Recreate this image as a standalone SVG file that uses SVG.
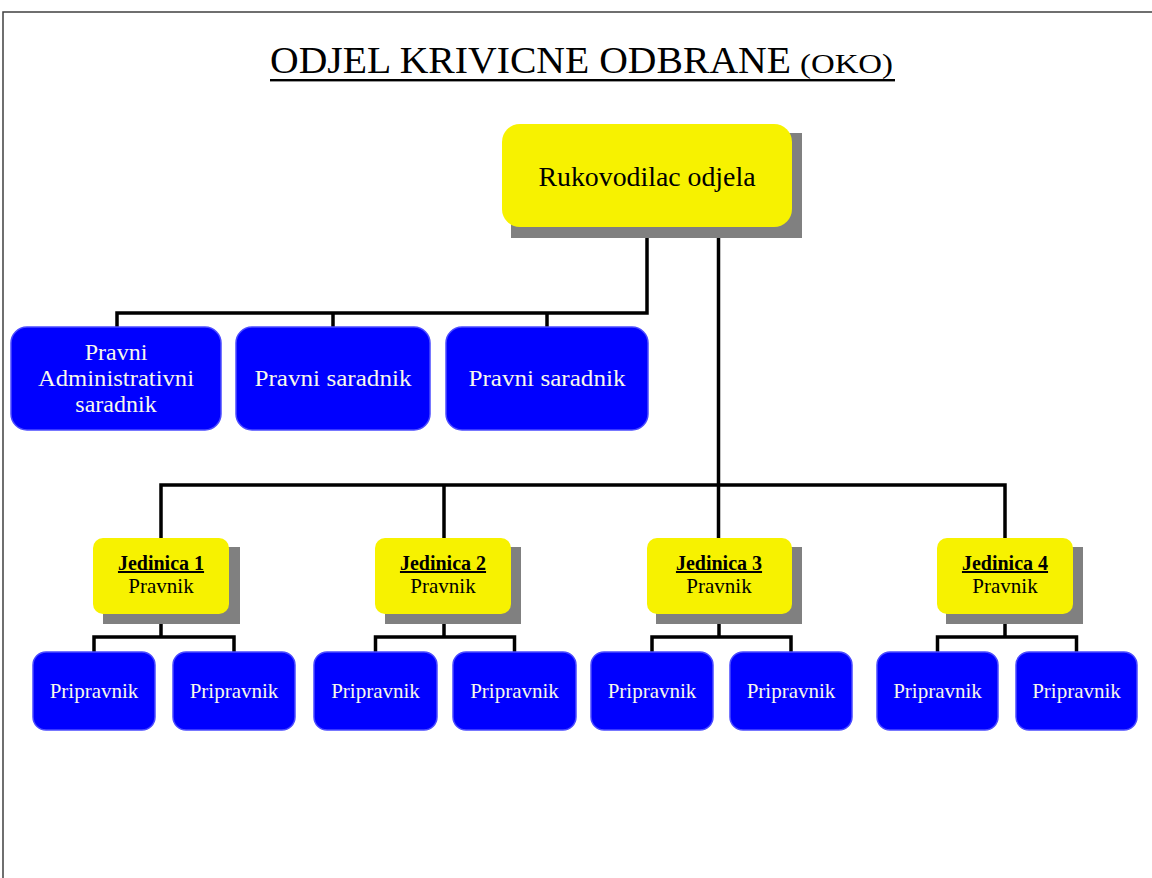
<svg xmlns="http://www.w3.org/2000/svg" width="1152" height="878" viewBox="0 0 1152 878">
<style>
.frame{fill:none;stroke:#404040;stroke-width:1.5}
.shadow{fill:#808080}
.yellow{fill:#F7F200}
.blue{fill:#0000FF;stroke:#4B4BFF;stroke-width:1.5}
.conn{fill:none;stroke:#000;stroke-width:3.5;stroke-linejoin:miter;stroke-linecap:butt}
.t{font-family:"Liberation Serif","Times New Roman",serif;text-anchor:middle}
.dark{fill:#000}
.light{fill:#F8F8EC}
.b{font-weight:bold;text-decoration:underline}
</style>
<rect width="1152" height="878" fill="#fff"/>
<path class="frame" d="M3,878 V12 H1152"/>

<g id="title">
<text x="270" y="73" font-family="Liberation Serif,serif" font-size="38" fill="#000" textLength="521" lengthAdjust="spacingAndGlyphs">ODJEL KRIVICNE ODBRANE</text>
<text x="800" y="73" font-family="Liberation Serif,serif" font-size="28" fill="#000" textLength="93" lengthAdjust="spacingAndGlyphs">(OKO)</text>
<rect x="270" y="79" width="625" height="2.4" fill="#000"/>
</g>

<g id="connectors">
<path class="conn" d="M647,237 V313 H117 V327"/>
<path class="conn" d="M333,313 V327"/>
<path class="conn" d="M547,313 V327"/>
<path class="conn" d="M718.5,237 V538"/>
<path class="conn" d="M161,538 V485 H1005 V538"/>
<path class="conn" d="M444,485 V538"/>
<path class="conn" d="M161,624 V637"/>
<path class="conn" d="M94,652 V637 H234 V652"/>
<path class="conn" d="M444,624 V637"/>
<path class="conn" d="M375.5,652 V637 H514.5 V652"/>
<path class="conn" d="M719,624 V637"/>
<path class="conn" d="M652,652 V637 H791 V652"/>
<path class="conn" d="M1005,624 V637"/>
<path class="conn" d="M937.5,652 V637 H1076.5 V652"/>
</g>

<g id="rukovodilac">
<rect class="shadow" x="511" y="133" width="291" height="105"/>
<rect class="yellow" x="502" y="124" width="290" height="103" rx="18"/>
<text class="t dark" x="647" y="186" font-size="27" textLength="217" lengthAdjust="spacingAndGlyphs">Rukovodilac odjela</text>
</g>

<g id="admin">
<rect class="blue" x="11" y="327" width="210" height="103" rx="16"/>
<text class="t light" font-size="24"><tspan x="116" y="360">Pravni</tspan><tspan x="116" y="386" textLength="156" lengthAdjust="spacingAndGlyphs">Administrativni</tspan><tspan x="116" y="412">saradnik</tspan></text>
</g>
<g id="saradnik1">
<rect class="blue" x="236" y="327" width="194" height="103" rx="16"/>
<text class="t light" x="333" y="386" font-size="24" textLength="157" lengthAdjust="spacingAndGlyphs">Pravni saradnik</text>
</g>
<g id="saradnik2">
<rect class="blue" x="446" y="327" width="202" height="103" rx="16"/>
<text class="t light" x="547" y="386" font-size="24" textLength="157" lengthAdjust="spacingAndGlyphs">Pravni saradnik</text>
</g>

<g id="jedinica1">
<rect class="shadow" x="103" y="547" width="137" height="77"/>
<rect class="yellow" x="93" y="538" width="136" height="76" rx="10"/>
<text class="t dark b" x="161" y="570" font-size="20">Jedinica 1</text>
<text class="t dark" x="161" y="593" font-size="21">Pravnik</text>
</g>
<g id="jedinica2">
<rect class="shadow" x="385" y="547" width="136" height="77"/>
<rect class="yellow" x="375" y="538" width="136" height="76" rx="10"/>
<text class="t dark b" x="443" y="570" font-size="20">Jedinica 2</text>
<text class="t dark" x="443" y="593" font-size="21">Pravnik</text>
</g>
<g id="jedinica3">
<rect class="shadow" x="656" y="547" width="146" height="77"/>
<rect class="yellow" x="647" y="538" width="145" height="76" rx="10"/>
<text class="t dark b" x="719" y="570" font-size="20">Jedinica 3</text>
<text class="t dark" x="719" y="593" font-size="21">Pravnik</text>
</g>
<g id="jedinica4">
<rect class="shadow" x="946" y="547" width="137" height="77"/>
<rect class="yellow" x="937" y="538" width="136" height="76" rx="10"/>
<text class="t dark b" x="1005" y="570" font-size="20">Jedinica 4</text>
<text class="t dark" x="1005" y="593" font-size="21">Pravnik</text>
</g>

<g id="pripravnik1a"><rect class="blue" x="33" y="652" width="122" height="78" rx="13"/><text class="t light" x="94" y="698" font-size="21">Pripravnik</text></g>
<g id="pripravnik1b"><rect class="blue" x="173" y="652" width="122" height="78" rx="13"/><text class="t light" x="234" y="698" font-size="21">Pripravnik</text></g>
<g id="pripravnik2a"><rect class="blue" x="314" y="652" width="123" height="78" rx="13"/><text class="t light" x="375.5" y="698" font-size="21">Pripravnik</text></g>
<g id="pripravnik2b"><rect class="blue" x="453" y="652" width="123" height="78" rx="13"/><text class="t light" x="514.5" y="698" font-size="21">Pripravnik</text></g>
<g id="pripravnik3a"><rect class="blue" x="591" y="652" width="122" height="78" rx="13"/><text class="t light" x="652" y="698" font-size="21">Pripravnik</text></g>
<g id="pripravnik3b"><rect class="blue" x="730" y="652" width="122" height="78" rx="13"/><text class="t light" x="791" y="698" font-size="21">Pripravnik</text></g>
<g id="pripravnik4a"><rect class="blue" x="877" y="652" width="121" height="78" rx="13"/><text class="t light" x="937.5" y="698" font-size="21">Pripravnik</text></g>
<g id="pripravnik4b"><rect class="blue" x="1016" y="652" width="121" height="78" rx="13"/><text class="t light" x="1076.5" y="698" font-size="21">Pripravnik</text></g>
</svg>
